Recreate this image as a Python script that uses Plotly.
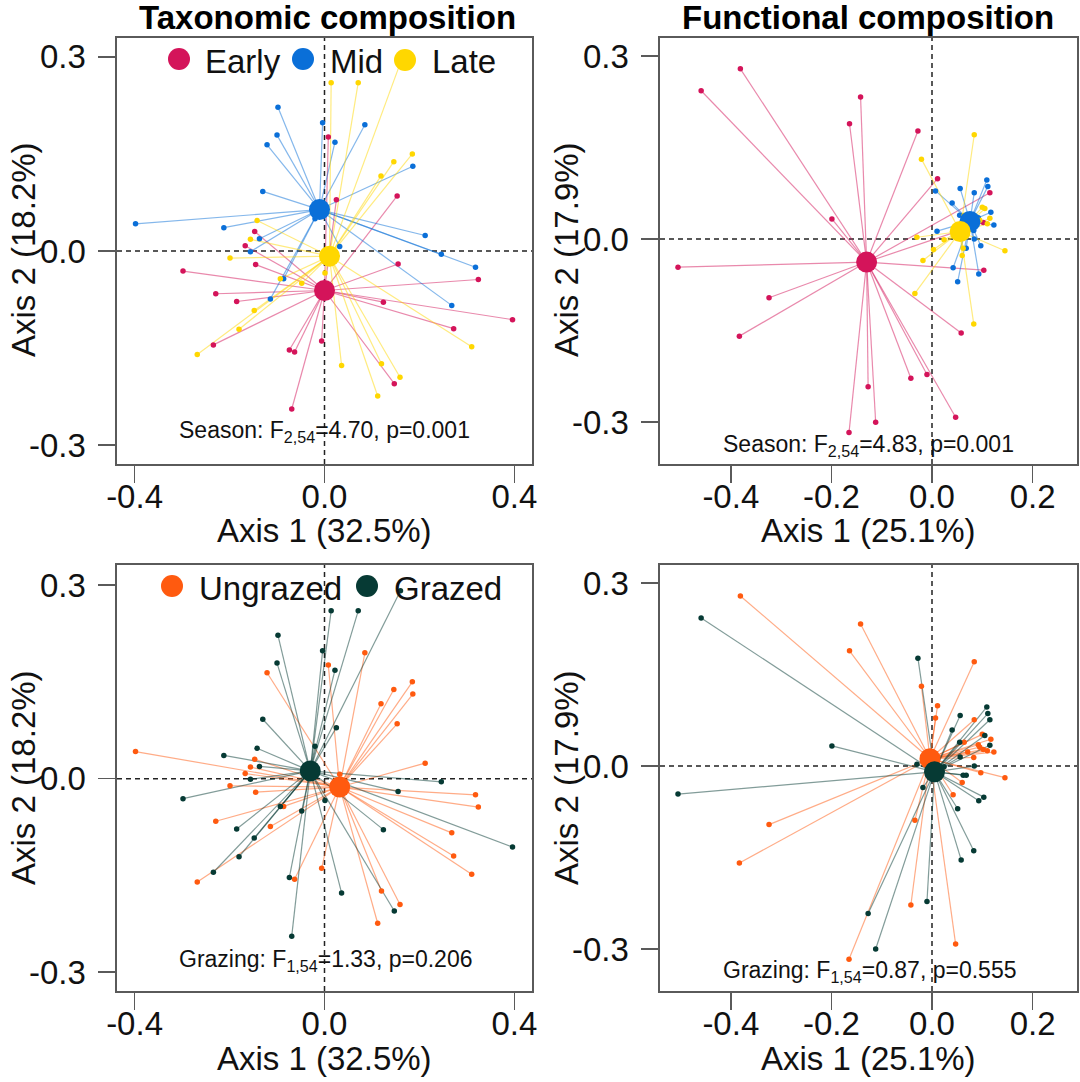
import plotly.graph_objects as go

W, H = 1080, 1082
FONT = "Liberation Sans, Arial, Helvetica, sans-serif"

# ---------------- DATA ----------------
SEASONS = ["Early", "Mid", "Late"]
GRAZING = ["Ungrazed", "Grazed"]
SEASON_COLORS = ["#D4145A", "#0A6FD8", "#FFD700"]
GRAZING_COLORS = ["#FF5A0F", "#063A34"]

# Taxonomic composition ordination (Axis 1 32.5%, Axis 2 18.2%)
tax_x = [
    -0.098, -0.004, 0.085, -0.100, 0.022, -0.121, 0.186, -0.130, -0.398, -0.212,
    0.212, -0.137, 0.032, -0.156, 0.246, 0.318, -0.086, -0.114, 0.268, -0.020,
    0.014, 0.071, 0.160, 0.185, 0.146, 0.119, -0.142, -0.156, -0.199, -0.093,
    -0.048, 0.001, -0.148, -0.180, -0.268, 0.310, 0.036, 0.120, 0.159, 0.112,
    0.008, 0.025, 0.153, -0.147, -0.167, -0.145, -0.298, 0.155, 0.324, -0.229,
    -0.185, 0.124, 0.396, 0.272, -0.234, -0.006, -0.074, -0.063, 0.147, -0.069,
]
tax_y = [
    0.222, 0.198, 0.195, 0.179, 0.168, 0.164, 0.131, 0.092, 0.042, 0.036,
    0.024, 0.019, 0.007, -0.001, -0.005, -0.025, -0.043, -0.074, -0.084, 0.050,
    0.260, 0.260, 0.291, 0.150, 0.138, 0.116, 0.047, 0.018, -0.011, -0.043,
    -0.050, -0.034, -0.092, -0.121, -0.160, -0.148, -0.177, -0.174, -0.195, -0.224,
    0.176, 0.079, 0.085, 0.030, 0.008, -0.021, -0.031, -0.020, -0.044, -0.066,
    -0.078, -0.079, -0.106, -0.120, -0.145, -0.139, -0.153, -0.156, -0.205, -0.244,
]
tax_season = ["Mid"] * 20 + ["Late"] * 20 + ["Early"] * 20
tax_grazing = [
    "Grazed", "Grazed", "Ungrazed", "Grazed", "Grazed", "Ungrazed", "Ungrazed", "Grazed", "Ungrazed", "Grazed",
    "Ungrazed", "Grazed", "Ungrazed", "Grazed", "Grazed", "Ungrazed", "Ungrazed", "Ungrazed", "Ungrazed", "Grazed",
    "Grazed", "Grazed", "Grazed", "Ungrazed", "Ungrazed", "Ungrazed", "Grazed", "Ungrazed", "Ungrazed", "Grazed",
    "Grazed", "Grazed", "Grazed", "Grazed", "Ungrazed", "Ungrazed", "Grazed", "Ungrazed", "Ungrazed", "Ungrazed",
    "Ungrazed", "Grazed", "Ungrazed", "Ungrazed", "Ungrazed", "Ungrazed", "Grazed", "Grazed", "Ungrazed", "Ungrazed",
    "Grazed", "Grazed", "Grazed", "Ungrazed", "Grazed", "Ungrazed", "Grazed", "Ungrazed", "Grazed", "Grazed",
]
tax_season_cx = [0.000, -0.0105, 0.0105]
tax_season_cy = [-0.061, 0.064, -0.008]
tax_grazing_cx = [0.032, -0.030]
tax_grazing_cy = [-0.013, 0.012]

# Functional composition ordination (Axis 1 25.1%, Axis 2 17.9%)
fun_x = [
    -0.381, -0.459, -0.142, -0.164, -0.028, 0.011, 0.115, -0.199, 0.102, -0.505,
    0.103, -0.324, -0.383, 0.058, -0.042, -0.010, -0.127, 0.047, -0.112, -0.165,
    0.109, 0.111, 0.056, 0.084, 0.007, 0.040, 0.117, 0.123, 0.010, 0.084,
    0.097, 0.068, 0.042, 0.093, 0.051, 0.055, 0.092, 0.071, 0.083,
    0.084, -0.021, 0.100, 0.105, 0.115, 0.110, -0.030, 0.024, 0.003, 0.145,
    0.062, -0.018, 0.060, -0.034, 0.083, 0.064, 0.095, 0.056,
]
fun_y = [
    0.279, 0.243, 0.233, 0.189, 0.177, 0.099, 0.076, 0.033, 0.027, -0.046,
    -0.051, -0.096, -0.159, -0.154, -0.228, -0.222, -0.242, -0.292, -0.300, -0.317,
    0.097, 0.086, 0.083, 0.076, 0.079, 0.059, 0.044, 0.023, 0.013, 0.000,
    -0.011, -0.015, -0.047, -0.057, -0.070, 0.039, 0.035, 0.023, 0.014,
    0.171, 0.131, 0.052, 0.050, 0.034, 0.025, 0.003, -0.001, -0.017, -0.019,
    -0.015, -0.035, -0.027, -0.089, -0.139, 0.039, 0.031, 0.015,
]
fun_season = ["Early"] * 20 + ["Mid"] * 19 + ["Late"] * 18
fun_grazing = [
    "Ungrazed", "Grazed", "Ungrazed", "Ungrazed", "Grazed", "Ungrazed", "Grazed", "Grazed", "Ungrazed", "Grazed",
    "Grazed", "Ungrazed", "Ungrazed", "Grazed", "Ungrazed", "Grazed", "Grazed", "Ungrazed", "Grazed", "Ungrazed",
    "Grazed", "Grazed", "Grazed", "Ungrazed", "Ungrazed", "Grazed", "Ungrazed", "Ungrazed", "Ungrazed", "Grazed",
    "Ungrazed", "Grazed", "Ungrazed", "Grazed", "Grazed", "Grazed", "Ungrazed", "Ungrazed", "Ungrazed",
    "Ungrazed", "Ungrazed", "Ungrazed", "Grazed", "Grazed", "Ungrazed", "Grazed", "Grazed", "Grazed", "Ungrazed",
    "Grazed", "Grazed", "Ungrazed", "Ungrazed", "Grazed", "Ungrazed", "Ungrazed", "Grazed",
]
fun_season_cx = [-0.130, 0.0755, 0.056]
fun_season_cy = [-0.0376, 0.029, 0.0125]
fun_grazing_cx = [-0.004, 0.005]
fun_grazing_cy = [0.012, -0.0095]

tax_axis_titles = ["Axis 1 (32.5%)", "Axis 2 (18.2%)"]
fun_axis_titles = ["Axis 1 (25.1%)", "Axis 2 (17.9%)"]
stat_texts = [
    "Season: F<sub>2,54</sub>=4.70, p=0.001",
    "Season: F<sub>2,54</sub>=4.83, p=0.001",
    "Grazing: F<sub>1,54</sub>=1.33, p=0.206",
    "Grazing: F<sub>1,54</sub>=0.87, p=0.555",
]
column_titles = ["Taxonomic composition", "Functional composition"]


# ---------------- HELPERS ----------------
def px(x):
    return x / W


def py(y):
    return 1 - y / H


def rgba(hexcol, a):
    h = hexcol.lstrip("#")
    r, g, b = int(h[0:2], 16), int(h[2:4], 16), int(h[4:6], 16)
    return f"rgba({r},{g},{b},{a})"


fig = go.Figure()


def add_panel(xa, ya, xs, ys, groups, levels, colors, cx, cy):
    # spider segments
    for i, lev in enumerate(levels):
        sx, sy = [], []
        for x, y, g in zip(xs, ys, groups):
            if g == lev:
                sx += [x, cx[i], None]
                sy += [y, cy[i], None]
        fig.add_trace(go.Scatter(x=sx, y=sy, mode="lines", xaxis=xa, yaxis=ya,
                                 line=dict(color=rgba(colors[i], 0.5), width=1.2),
                                 hoverinfo="skip", showlegend=False))
    # sample points
    for i, lev in enumerate(levels):
        px_ = [x for x, g in zip(xs, groups) if g == lev]
        py_ = [y for y, g in zip(ys, groups) if g == lev]
        fig.add_trace(go.Scatter(x=px_, y=py_, mode="markers", xaxis=xa, yaxis=ya,
                                 marker=dict(color=colors[i], size=5.5, line=dict(width=0)),
                                 name=lev, showlegend=False))
    # centroids
    for i, lev in enumerate(levels):
        fig.add_trace(go.Scatter(x=[cx[i]], y=[cy[i]], mode="markers", xaxis=xa, yaxis=ya,
                                 marker=dict(color=colors[i], size=21, line=dict(width=0)),
                                 name=lev + " centroid", showlegend=False))


add_panel("x", "y", tax_x, tax_y, tax_season, SEASONS, SEASON_COLORS, tax_season_cx, tax_season_cy)
add_panel("x2", "y2", fun_x, fun_y, fun_season, SEASONS, SEASON_COLORS, fun_season_cx, fun_season_cy)
add_panel("x3", "y3", tax_x, tax_y, tax_grazing, GRAZING, GRAZING_COLORS, tax_grazing_cx, tax_grazing_cy)
add_panel("x4", "y4", fun_x, fun_y, fun_grazing, GRAZING, GRAZING_COLORS, fun_grazing_cx, fun_grazing_cy)

# ---------------- AXES ----------------
LEFT_DOM = [px(117), px(532)]
RIGHT_DOM = [px(660), px(1077)]
TOP_DOM = [py(464), py(38)]
BOT_DOM = [py(991), py(565)]

axis_common = dict(showgrid=False, zeroline=False, showline=True, mirror=True,
                   linecolor="#5a5a5a", linewidth=1.6, ticks="outside", ticklen=17,
                   tickwidth=1.6, tickcolor="#5a5a5a", automargin=False,
                   tickfont=dict(family=FONT, size=33, color="#111111"))

tax_xticks = [-0.4, 0.0, 0.4]
fun_xticks = [-0.4, -0.2, 0.0, 0.2]
yticks = [-0.3, 0.0, 0.3]


def tt(vals):
    return [f"{v:.1f}".replace("-0.0", "0.0") for v in vals]


layout_axes = {}
specs = [
    ("", LEFT_DOM, TOP_DOM, [-0.437, 0.437], [-0.329, 0.329], tax_xticks),
    ("2", RIGHT_DOM, TOP_DOM, [-0.5408, 0.2883], [-0.3685, 0.3295], fun_xticks),
    ("3", LEFT_DOM, BOT_DOM, [-0.437, 0.437], [-0.329, 0.331], tax_xticks),
    ("4", RIGHT_DOM, BOT_DOM, [-0.5408, 0.2883], [-0.369, 0.3298], fun_xticks),
]
for sfx, xd, yd, xr, yr, xt in specs:
    layout_axes["xaxis" + sfx] = dict(axis_common, domain=xd, range=xr, anchor="y" + sfx,
                                      tickvals=xt, ticktext=tt(xt), ticklabelstandoff=-14)
    layout_axes["yaxis" + sfx] = dict(axis_common, domain=yd, range=yr, anchor="x" + sfx,
                                      tickvals=yticks, ticktext=tt(yticks), ticklabelstandoff=6)

fig.update_layout(**layout_axes)

# dashed zero lines
shapes = []
for sfx in ["", "2", "3", "4"]:
    xa = "x" + sfx
    ya = "y" + sfx
    shapes.append(dict(type="line", xref=xa + " domain", yref=ya, x0=0, x1=1, y0=0, y1=0,
                       line=dict(color="#222222", width=1.5, dash="5px,4px"), layer="below"))
    shapes.append(dict(type="line", xref=xa, yref=ya + " domain", x0=0, x1=0, y0=0, y1=1,
                       line=dict(color="#222222", width=1.5, dash="5px,4px"), layer="below"))

# legend circles (layout decoration)
legend_items = [
    (179, 59, SEASON_COLORS[0], SEASONS[0], 203),
    (303, 59, SEASON_COLORS[1], SEASONS[1], 328),
    (405, 60, SEASON_COLORS[2], SEASONS[2], 430),
    (172, 586, GRAZING_COLORS[0], GRAZING[0], 197),
    (367, 586, GRAZING_COLORS[1], GRAZING[1], 392),
]
annotations = []
for cxp, cyp, col, lab, tx in legend_items:
    shapes.append(dict(type="circle", xref="paper", yref="paper", xsizemode="pixel", ysizemode="pixel",
                       xanchor=px(cxp), yanchor=py(cyp), x0=-11, x1=11, y0=-11, y1=11,
                       fillcolor=col, line=dict(width=0), layer="above"))
    annotations.append(dict(text=lab, x=px(tx), y=py(cyp + 2), xref="paper", yref="paper",
                            xanchor="left", yanchor="middle", showarrow=False,
                            font=dict(family=FONT, size=33, color="#111111")))

fig.update_layout(shapes=shapes)

# column titles
for title, xc in zip(column_titles, [327, 868]):
    annotations.append(dict(text="<b>" + title + "</b>", x=px(xc), y=py(18), xref="paper", yref="paper",
                            xanchor="center", yanchor="middle", showarrow=False,
                            font=dict(family=FONT, size=33, color="#000000")))

# axis titles
for (xt, yt), xc, yc, ybox in [
    (tax_axis_titles, 324.5, 530, 250),
    (fun_axis_titles, 868.5, 530, 250),
    (tax_axis_titles, 324.5, 1058, 778),
    (fun_axis_titles, 868.5, 1058, 778),
]:
    annotations.append(dict(text=xt, x=px(xc), y=py(yc), xref="paper", yref="paper",
                            xanchor="center", yanchor="middle", showarrow=False,
                            font=dict(family=FONT, size=33, color="#111111")))
    ycx = 23 if xc < 540 else 566
    annotations.append(dict(text=yt, x=px(ycx), y=py(ybox), xref="paper", yref="paper",
                            xanchor="center", yanchor="middle", showarrow=False, textangle=-90,
                            font=dict(family=FONT, size=33, color="#111111")))

# statistics
for txt, (xc, yc) in zip(stat_texts, [(324, 431), (868, 445), (325, 960), (869, 971)]):
    annotations.append(dict(text=txt, x=px(xc), y=py(yc), xref="paper", yref="paper",
                            xanchor="center", yanchor="middle", showarrow=False,
                            font=dict(family=FONT, size=23, color="#111111")))

fig.update_layout(
    annotations=annotations,
    width=W, height=H,
    margin=dict(l=0, r=0, t=0, b=0),
    paper_bgcolor="white", plot_bgcolor="white",
    showlegend=False,
    hovermode=False,
)

fig.write_html("out.html",
               config={"displayModeBar": False, "staticPlot": True},
               post_script="document.body.style.margin='0';document.body.style.overflow='hidden';")
